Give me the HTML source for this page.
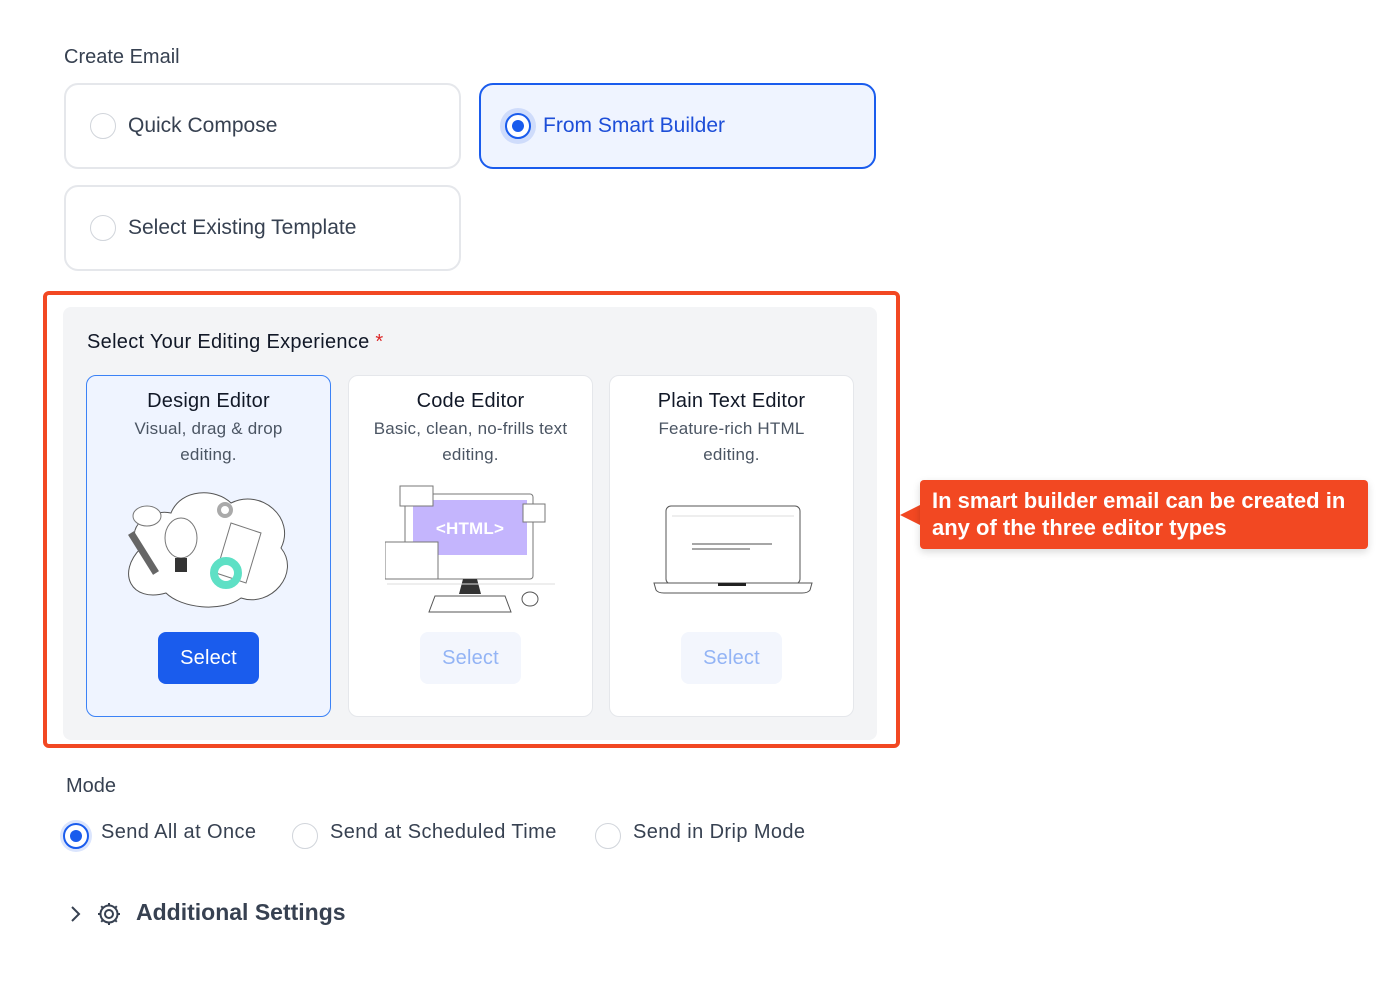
<!DOCTYPE html>
<html><head><meta charset="utf-8"><style>
*{box-sizing:border-box;margin:0;padding:0}
body{width:1400px;height:994px;background:#fff;font-family:"Liberation Sans",sans-serif;color:#1f2937;position:relative;overflow:hidden}
.abs{position:absolute}
.opt{position:absolute;border:2px solid #e5e7eb;border-radius:14px;background:#fff;height:86px;width:397px;display:flex;align-items:center;padding-left:24px;font-size:21px;color:#374151}
.rad{width:26px;height:26px;border-radius:50%;border:1.5px solid #d1d5db;margin-right:12px;background:#fff;flex:none}
.card{position:absolute;top:375px;width:245px;height:342px;border:1px solid #e5e7eb;border-radius:10px;background:#fff;text-align:center;letter-spacing:0.2px}
.card h3{font-size:20px;font-weight:normal;color:#111827;margin-top:14px}
.card p{font-size:17px;color:#4b5563;line-height:26px;margin-top:3px}
.btn{position:absolute;left:71px;top:256px;width:101px;height:52px;border-radius:8px;background:#f3f6fd;color:#93b4f5;font-size:20px;line-height:52px}
.mrad{position:absolute;top:823px;width:26px;height:26px;border-radius:50%;border:1.5px solid #d1d5db}
.ml{position:absolute;top:821px;font-size:20px;color:#374151;white-space:nowrap;letter-spacing:0.4px}
</style></head><body>
<div class="abs" style="left:64px;top:46px;font-size:20px;color:#374151">Create Email</div>
<div class="opt" style="left:64px;top:83px"><span class="rad"></span>Quick Compose</div>
<div class="opt" style="left:479px;top:83px;border-color:#1a5ced;background:#eff4ff;color:#1d4ed8"><span class="rad" style="border:2px solid #1a5ced;box-shadow:0 0 0 5px #cfdcfb;display:flex;align-items:center;justify-content:center"><span style="width:12px;height:12px;border-radius:50%;background:#1a5ced"></span></span>From Smart Builder</div>
<div class="opt" style="left:64px;top:185px"><span class="rad"></span>Select Existing Template</div>

<div class="abs" style="left:43px;top:291px;width:857px;height:457px;border:4px solid #f24822;border-radius:6px"></div>
<div class="abs" style="left:63px;top:307px;width:814px;height:433px;background:#f3f4f6;border-radius:8px"></div>
<div class="abs" style="left:87px;top:331px;font-size:20px;color:#111827;letter-spacing:0.3px">Select Your Editing Experience <span style="color:#dc2626">*</span></div>

<div class="card" style="left:86px;background:#eff4ff;border-color:#3b82f6">
<h3>Design Editor</h3><p>Visual, drag &amp; drop<br>editing.</p>
<svg class="abs" style="left:34px;top:112px" width="178" height="120" viewBox="0 0 178 120">
<path d="M20 60 C0 40 30 20 50 25 C60 0 95 0 110 15 C140 0 175 30 160 60 C180 85 150 120 120 110 C100 125 60 120 45 105 C10 115 -5 85 20 60Z" fill="#fff" stroke="#555" stroke-width="1"/>
<ellipse cx="60" cy="50" rx="16" ry="20" fill="#fff" stroke="#777"/><rect x="54" y="70" width="12" height="14" fill="#333"/>
<path d="M110 35 L140 45 L125 95 L95 85Z" fill="#fff" stroke="#777"/>
<circle cx="105" cy="85" r="12" fill="none" stroke="#5ee0c5" stroke-width="8"/>
<circle cx="104" cy="22" r="6" fill="none" stroke="#aaa" stroke-width="4"/>
<path d="M10 45 L35 85" stroke="#666" stroke-width="7"/>
<ellipse cx="26" cy="28" rx="14" ry="10" fill="#fff" stroke="#777"/>
</svg>
<div class="btn" style="background:#1a5ced;color:#fff">Select</div></div>

<div class="card" style="left:348px">
<h3>Code Editor</h3><p>Basic, clean, no-frills text<br>editing.</p>
<svg class="abs" style="left:36px;top:108px" width="175" height="130" viewBox="0 0 175 130">
<rect x="20" y="10" width="128" height="85" rx="3" fill="#fff" stroke="#777"/>
<rect x="28" y="16" width="114" height="55" fill="#c4b5fd"/>
<text x="85" y="50" font-size="17" fill="#fff" text-anchor="middle" font-family="Liberation Sans" font-weight="bold">&lt;HTML&gt;</text>
<rect x="15" y="2" width="33" height="20" fill="#fff" stroke="#777"/>
<rect x="138" y="20" width="22" height="18" fill="#fff" stroke="#777"/>
<rect x="0" y="58" width="53" height="37" fill="#fff" stroke="#777"/>
<path d="M78 95 L92 95 L96 110 L74 110Z" fill="#333"/>
<path d="M50 112 L120 112 L126 128 L44 128Z" fill="#fff" stroke="#555"/>
<line x1="2" y1="100" x2="170" y2="100" stroke="#ddd"/>
<ellipse cx="145" cy="115" rx="8" ry="7" fill="#fff" stroke="#555"/>
</svg>
<div class="btn">Select</div></div>

<div class="card" style="left:609px">
<h3>Plain Text Editor</h3><p>Feature-rich HTML<br>editing.</p>
<svg class="abs" style="left:42px;top:128px" width="162" height="92" viewBox="0 0 162 92">
<rect x="14" y="2" width="134" height="78" rx="5" fill="#fff" stroke="#555"/>
<line x1="20" y1="12" x2="142" y2="12" stroke="#ddd"/>
<line x1="40" y1="40" x2="120" y2="40" stroke="#888" stroke-width="1.5"/>
<line x1="40" y1="45" x2="98" y2="45" stroke="#888" stroke-width="1.5"/>
<path d="M2 79 L160 79 L158 86 Q156 89 150 89 L12 89 Q6 89 4 86Z" fill="#fff" stroke="#555"/>
<rect x="66" y="79" width="28" height="3" fill="#222"/>
</svg>
<div class="btn">Select</div></div>

<div class="abs" style="left:900px;top:505px;width:0;height:0;border-top:10px solid transparent;border-bottom:10px solid transparent;border-right:20px solid #f24822"></div>
<div class="abs" style="left:920px;top:480px;width:448px;height:69px;background:#f24822;border-radius:4px;color:#fff;font-size:22px;font-weight:bold;line-height:27px;padding:7px 12px;box-shadow:0 3px 8px rgba(0,0,0,.15)">In smart builder email can be created in any of the three editor types</div>

<div class="abs" style="left:66px;top:775px;font-size:20px;color:#374151">Mode</div>
<span class="mrad" style="left:63px;border:2px solid #1a5ced;box-shadow:0 0 0 3px #dbe5fd"><span style="position:absolute;left:5px;top:5px;width:12px;height:12px;border-radius:50%;background:#1a5ced"></span></span>
<span class="ml" style="left:101px">Send All at Once</span>
<span class="mrad" style="left:292px"></span>
<span class="ml" style="left:330px">Send at Scheduled Time</span>
<span class="mrad" style="left:595px"></span>
<span class="ml" style="left:633px">Send in Drip Mode</span>

<svg class="abs" style="left:66px;top:900px" width="60" height="28" viewBox="0 0 60 28">
<path d="M6 7 L13 14 L6 21" fill="none" stroke="#374151" stroke-width="2"/>
<g transform="translate(43,14)" fill="none" stroke="#374151" stroke-width="2"><circle r="4"/><path d="M0 -11 L0 -8 M0 8 L0 11 M-11 0 L-8 0 M8 0 L11 0 M-7.8 -7.8 L-5.7 -5.7 M5.7 5.7 L7.8 7.8 M-7.8 7.8 L-5.7 5.7 M5.7 -5.7 L7.8 -7.8"/><circle r="8.5"/></g>
</svg>
<div class="abs" style="left:136px;top:899px;font-size:23px;font-weight:bold;color:#374151">Additional Settings</div>
</body></html>
